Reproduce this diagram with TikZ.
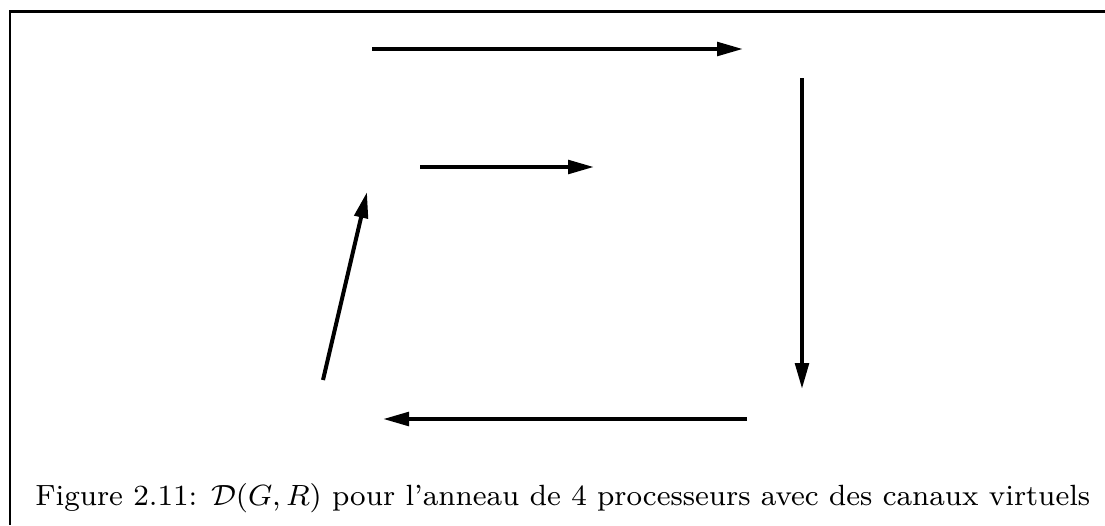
\documentclass[tikz,border=0pt]{standalone}
\usetikzlibrary{arrows.meta}
\begin{document}
\begin{tikzpicture}[x=0.02cm,y=-0.02cm,
  frameline/.style={line width=0.06cm},
  arr/.style={line width=0.08cm,-{Triangle[length=0.52cm,width=0.27cm]}}]
\useasboundingbox (0,0) rectangle (1105,525);
\coordinate (ftr) at (1105,11);
\coordinate (ftl) at (10,11);
\coordinate (fbl) at (10,525);
\draw[frameline] (ftr) -- (ftl) -- (fbl);
\coordinate (a1s) at (372,49);  \coordinate (a1e) at (743,49);
\coordinate (a2s) at (802,78);  \coordinate (a2e) at (802,389);
\coordinate (a3s) at (747,419); \coordinate (a3e) at (383,419);
\coordinate (a4s) at (323,380); \coordinate (a4e) at (367,192);
\coordinate (a5s) at (420,167); \coordinate (a5e) at (594,167);
\draw[arr] (a1s) -- (a1e);
\draw[arr] (a2s) -- (a2e);
\draw[arr] (a3s) -- (a3e);
\draw[arr] (a4s) -- (a4e);
\draw[arr] (a5s) -- (a5e);
\node[anchor=base west,inner sep=0pt] (cap) at (35,505) {\resizebox{21.1cm}{!}{\fontsize{8}{9.6}\selectfont Figure 2.11: $\mathcal{D}(G,R)$ pour l'anneau de 4 processeurs avec des canaux virtuels}};
\end{tikzpicture}
\end{document}
